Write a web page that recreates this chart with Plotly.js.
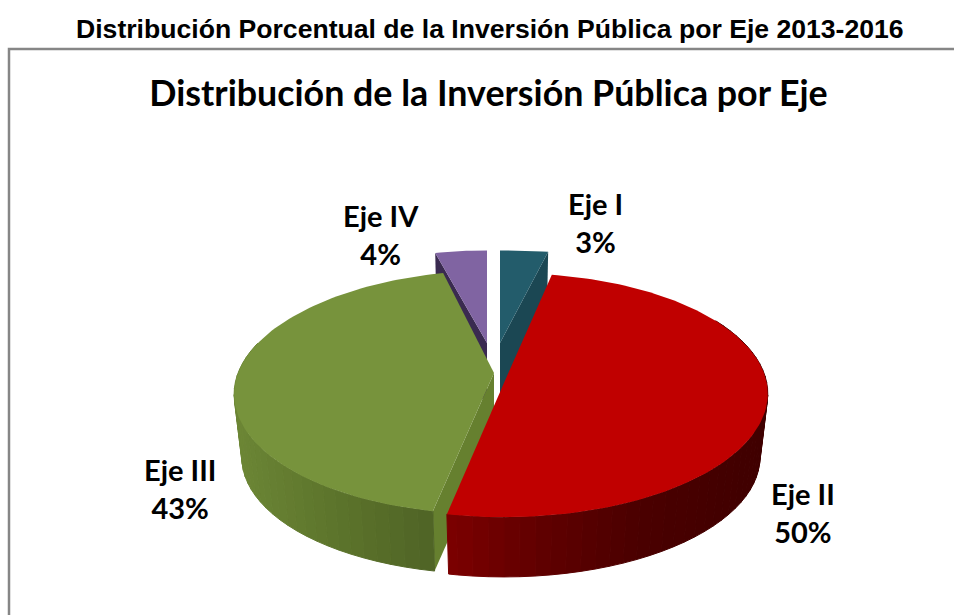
<!DOCTYPE html>
<html><head><meta charset="utf-8">
<script src="https://cdn.plot.ly/plotly-3.0.1.min.js"></script>
<style>html,body{margin:0;padding:0;background:#fff}#c{width:954px;height:615px}</style>
</head><body><div id="c"></div>
<script>
const categories = ['Eje I', 'Eje II', 'Eje III', 'Eje IV'];
const values = [3, 50, 43, 4];
const heading = 'Distribución Porcentual de la Inversión Pública por Eje 2013-2016';
const chartTitle = 'Distribución de la Inversión Pública por Eje';

const topColors = ['#235c6b', '#c00000', '#77933c', '#8064a2'];
const cutColors = ['#1b4753', null, '#66802f', '#3a2a50'];
const wallStops = [null, [[447,'#7c0000'],[540,'#600000'],[640,'#4a0000'],[770,'#3f0000']],
                   [[232,'#6d8736'],[330,'#5d752c'],[435,'#4f6325']], null];
const apexX = [500, 507, 494, 487];
const apexY = [343, 376, 373, 343];
const scaleX = [1.15, 1, 0.992, 0.93];
const scaleY = [0.9, 1, 1, 0.9];
const shear = [0, 3, 4.5, 0];
const labelX = [595, 803, 180, 381];
const labelY = [222, 512.5, 488.5, 234];
const RX = 258, RY = 119, PERSP = 0.157, DEPTH = 64, BOTTOM = 0.97;

function proj(i, deg, bottom) {
  const t = deg * Math.PI / 180, u = Math.sin(t), v = -Math.cos(t), w = 1 - PERSP * v;
  const s = bottom ? BOTTOM : 1;
  return [apexX[i] - shear[i] * v + s * scaleX[i] * RX * u / w,
          apexY[i] + (bottom ? DEPTH : 0) + s * scaleY[i] * RY * v / w];
}
function apex(i, bottom) { return [apexX[i], apexY[i] + (bottom ? DEPTH : 0)]; }
function arc(i, a, b, bottom) {
  const n = Math.max(2, Math.ceil(Math.abs(b - a) / 1.5)), out = [];
  for (let k = 0; k <= n; k++) out.push(proj(i, a + (b - a) * k / n, bottom));
  return out;
}
function poly(pts, color, edge) {
  const x = pts.map(p => p[0]), y = pts.map(p => p[1]);
  x.push(x[0]); y.push(y[0]);
  return {type:'scatter', mode:'lines', x, y, fill:'toself', fillcolor:color,
          line:{color:color, width:edge||0}, hoverinfo:'skip', showlegend:false};
}
function hex(c){return [1,3,5].map(o=>parseInt(c.substr(o,2),16));}
function wallColor(stops, x) {
  if (x <= stops[0][0]) return stops[0][1];
  for (let i = 1; i < stops.length; i++) {
    if (x <= stops[i][0]) {
      const f = (x - stops[i-1][0]) / (stops[i][0] - stops[i-1][0]);
      const a = hex(stops[i-1][1]), b = hex(stops[i][1]);
      return 'rgb(' + a.map((c,j)=>Math.round(c+(b[j]-c)*f)).join(',') + ')';
    }
  }
  return stops[stops.length-1][1];
}

const total = values.reduce((a,b)=>a+b,0);
const start = [], end = [];
values.reduce((acc,v,i)=>{start[i]=acc/total*360; end[i]=(acc+v)/total*360; return acc+v;},0);

const traces = [];
function wedge(i, cutAngle) {
  if (cutColors[i] && cutAngle !== null) {
    traces.push(poly([proj(i,cutAngle,false), apex(i,false), apex(i,true), proj(i,cutAngle,true)], cutColors[i]));
  }
  if (wallStops[i]) {
    const lo = i===1 ? Math.max(start[i],60) : start[i], hi = i===2 ? Math.min(end[i],285) : end[i];
    const step = 3;
    for (let a = lo; a < hi; a += step) {
      const b = Math.min(a + step, hi);
      const pts = arc(i,a,b,false).concat(arc(i,b,a,true));
      const mx = pts.reduce((s,p)=>s+p[0],0)/pts.length;
      traces.push(poly(pts, wallColor(wallStops[i], mx), 1));
    }
  }
  traces.push(poly([apex(i,false)].concat(arc(i,start[i],end[i],false)), topColors[i]));
}
wedge(0, end[0]);
wedge(3, start[3]);
wedge(2, start[2]);
wedge(1, null);

const annotations = categories.map((c,i)=>({
  x:labelX[i], y:labelY[i], xref:'x', yref:'y', text:c+'<br>'+values[i]+'%', showarrow:false,
  align:'center', font:{family:'Lato, sans-serif', size:29, color:'#000', weight:700}
}));
annotations.push({x:490, y:29, xref:'x', yref:'y', text:'<b>'+heading+'</b>', showarrow:false,
  font:{family:'"Liberation Sans", Arial, sans-serif', size:26.6, color:'#000'}});

const hidden = {visible:false, fixedrange:true};
Plotly.newPlot('c', traces, {
  width:954, height:615, margin:{l:0,r:0,t:0,b:0}, showlegend:false,
  paper_bgcolor:'#fff', plot_bgcolor:'#fff',
  title:{text:'<b>'+chartTitle+'</b>', x:488.5/954, xanchor:'center', y:1-93/615, yanchor:'middle',
         font:{family:'Lato, sans-serif', size:35.8, color:'#000'}},
  xaxis:Object.assign({range:[0,954]},hidden),
  yaxis:Object.assign({range:[615,0]},hidden),
  shapes:[{type:'rect', xref:'x', yref:'y', x0:9, y0:49, x1:1000, y1:700,
           line:{color:'#868686', width:2.5}, layer:'below'}],
  annotations
}, {displayModeBar:false, staticPlot:true});
</script></body></html>
